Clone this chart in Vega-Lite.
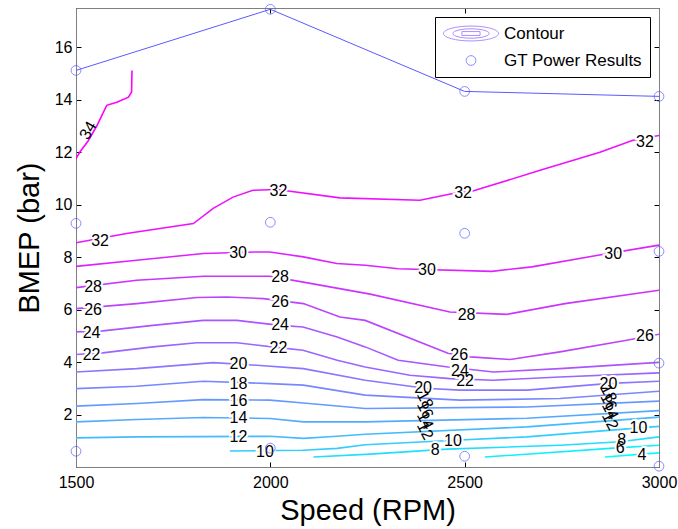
{
  "$schema": "https://vega.github.io/schema/vega-lite/v6.json",
  "width": 583,
  "height": 459,
  "autosize": {"type": "none"},
  "padding": {"left": 76, "top": 8, "right": 19, "bottom": 62},
  "background": "white",
  "config": {
    "font": "Liberation Sans",
    "view": {"stroke": "#7f7f7f", "strokeWidth": 1},
    "axis": {
      "grid": false,
      "domainColor": "#7f7f7f",
      "tickColor": "#000000",
      "tickSize": -5,
      "labelFlush": false,
      "labelOverlap": false,
      "labelColor": "#000000",
      "labelFont": "Liberation Sans",
      "labelFontSize": 16,
      "titleFont": "Liberation Sans",
      "titleFontSize": 29,
      "titleFontWeight": "normal",
      "titleColor": "#000000"
    },
    "legend": {
      "orient": "none",
      "legendX": 359,
      "legendY": 9,
      "padding": 8,
      "strokeColor": "#000000",
      "fillColor": "#ffffff",
      "labelFont": "Liberation Sans",
      "labelFontSize": 17,
      "labelColor": "#000000",
      "labelOffset": 5,
      "rowPadding": 9,
      "clipHeight": 17,
      "symbolStrokeWidth": 1
    }
  },
  "datasets": {
    "contours": [
      {"level": 34, "rpm": 1500, "bmep": 11.76}, {"level": 34, "rpm": 1510, "bmep": 12.01}, {"level": 34, "rpm": 1532, "bmep": 12.45}, {"level": 34, "rpm": 1554, "bmep": 13.02}, {"level": 34, "rpm": 1579, "bmep": 13.79}, {"level": 34, "rpm": 1605, "bmep": 13.91}, {"level": 34, "rpm": 1635, "bmep": 14.10}, {"level": 34, "rpm": 1643, "bmep": 14.30}, {"level": 34, "rpm": 1644, "bmep": 15.12},
      {"level": 32, "rpm": 1500, "bmep": 8.55}, {"level": 32, "rpm": 1630, "bmep": 8.90}, {"level": 32, "rpm": 1802, "bmep": 9.28}, {"level": 32, "rpm": 1853, "bmep": 9.86}, {"level": 32, "rpm": 1904, "bmep": 10.29}, {"level": 32, "rpm": 1955, "bmep": 10.55}, {"level": 32, "rpm": 2017, "bmep": 10.58}, {"level": 32, "rpm": 2179, "bmep": 10.26}, {"level": 32, "rpm": 2385, "bmep": 10.17}, {"level": 32, "rpm": 2470, "bmep": 10.43}, {"level": 32, "rpm": 2521, "bmep": 10.52}, {"level": 32, "rpm": 2694, "bmep": 11.31}, {"level": 32, "rpm": 2848, "bmep": 12.0}, {"level": 32, "rpm": 2933, "bmep": 12.46}, {"level": 32, "rpm": 3000, "bmep": 12.64},
      {"level": 30, "rpm": 1500, "bmep": 7.65}, {"level": 30, "rpm": 1656, "bmep": 7.88}, {"level": 30, "rpm": 1828, "bmep": 8.14}, {"level": 30, "rpm": 1965, "bmep": 8.20}, {"level": 30, "rpm": 1999, "bmep": 8.20}, {"level": 30, "rpm": 2085, "bmep": 8.01}, {"level": 30, "rpm": 2171, "bmep": 7.76}, {"level": 30, "rpm": 2244, "bmep": 7.69}, {"level": 30, "rpm": 2329, "bmep": 7.56}, {"level": 30, "rpm": 2570, "bmep": 7.46}, {"level": 30, "rpm": 2673, "bmep": 7.63}, {"level": 30, "rpm": 2843, "bmep": 8.07}, {"level": 30, "rpm": 3000, "bmep": 8.46},
      {"level": 28, "rpm": 1500, "bmep": 6.84}, {"level": 28, "rpm": 1656, "bmep": 7.12}, {"level": 28, "rpm": 1828, "bmep": 7.27}, {"level": 28, "rpm": 1999, "bmep": 7.27}, {"level": 28, "rpm": 2085, "bmep": 7.05}, {"level": 28, "rpm": 2257, "bmep": 6.59}, {"level": 28, "rpm": 2462, "bmep": 5.91}, {"level": 28, "rpm": 2608, "bmep": 5.82}, {"level": 28, "rpm": 2758, "bmep": 6.23}, {"level": 28, "rpm": 3000, "bmep": 6.74},
      {"level": 26, "rpm": 1500, "bmep": 6.04}, {"level": 26, "rpm": 1656, "bmep": 6.23}, {"level": 26, "rpm": 1811, "bmep": 6.46}, {"level": 26, "rpm": 1888, "bmep": 6.48}, {"level": 26, "rpm": 1982, "bmep": 6.42}, {"level": 26, "rpm": 2085, "bmep": 6.23}, {"level": 26, "rpm": 2179, "bmep": 5.72}, {"level": 26, "rpm": 2244, "bmep": 5.59}, {"level": 26, "rpm": 2457, "bmep": 4.34}, {"level": 26, "rpm": 2514, "bmep": 4.20}, {"level": 26, "rpm": 2617, "bmep": 4.10}, {"level": 26, "rpm": 2745, "bmep": 4.39}, {"level": 26, "rpm": 2917, "bmep": 4.83}, {"level": 26, "rpm": 3000, "bmep": 5.06},
      {"level": 24, "rpm": 1500, "bmep": 5.15}, {"level": 24, "rpm": 1569, "bmep": 5.19}, {"level": 24, "rpm": 1698, "bmep": 5.40}, {"level": 24, "rpm": 1827, "bmep": 5.59}, {"level": 24, "rpm": 1914, "bmep": 5.59}, {"level": 24, "rpm": 2025, "bmep": 5.40}, {"level": 24, "rpm": 2084, "bmep": 5.34}, {"level": 24, "rpm": 2172, "bmep": 4.96}, {"level": 24, "rpm": 2244, "bmep": 4.58}, {"level": 24, "rpm": 2329, "bmep": 4.07}, {"level": 24, "rpm": 2457, "bmep": 3.81}, {"level": 24, "rpm": 2574, "bmep": 3.62}, {"level": 24, "rpm": 2745, "bmep": 3.75}, {"level": 24, "rpm": 3000, "bmep": 3.99},
      {"level": 22, "rpm": 1500, "bmep": 4.29}, {"level": 22, "rpm": 1569, "bmep": 4.35}, {"level": 22, "rpm": 1698, "bmep": 4.58}, {"level": 22, "rpm": 1811, "bmep": 4.74}, {"level": 22, "rpm": 1914, "bmep": 4.74}, {"level": 22, "rpm": 2021, "bmep": 4.55}, {"level": 22, "rpm": 2084, "bmep": 4.45}, {"level": 22, "rpm": 2172, "bmep": 4.07}, {"level": 22, "rpm": 2244, "bmep": 3.81}, {"level": 22, "rpm": 2359, "bmep": 3.50}, {"level": 22, "rpm": 2462, "bmep": 3.37}, {"level": 22, "rpm": 2573, "bmep": 3.31}, {"level": 22, "rpm": 2745, "bmep": 3.43}, {"level": 22, "rpm": 3000, "bmep": 3.59},
      {"level": 20, "rpm": 1500, "bmep": 3.62}, {"level": 20, "rpm": 1656, "bmep": 3.75}, {"level": 20, "rpm": 1853, "bmep": 3.98}, {"level": 20, "rpm": 1965, "bmep": 3.88}, {"level": 20, "rpm": 2085, "bmep": 3.75}, {"level": 20, "rpm": 2244, "bmep": 3.31}, {"level": 20, "rpm": 2398, "bmep": 3.00}, {"level": 20, "rpm": 2488, "bmep": 2.93}, {"level": 20, "rpm": 2660, "bmep": 2.93}, {"level": 20, "rpm": 2874, "bmep": 3.19}, {"level": 20, "rpm": 3000, "bmep": 3.27},
      {"level": 18, "rpm": 1500, "bmep": 2.99}, {"level": 18, "rpm": 1656, "bmep": 3.08}, {"level": 18, "rpm": 1828, "bmep": 3.27}, {"level": 18, "rpm": 1999, "bmep": 3.18}, {"level": 18, "rpm": 2085, "bmep": 3.12}, {"level": 18, "rpm": 2244, "bmep": 2.74}, {"level": 18, "rpm": 2488, "bmep": 2.55}, {"level": 18, "rpm": 2745, "bmep": 2.61}, {"level": 18, "rpm": 3000, "bmep": 2.89},
      {"level": 16, "rpm": 1500, "bmep": 2.32}, {"level": 16, "rpm": 1656, "bmep": 2.42}, {"level": 16, "rpm": 1828, "bmep": 2.57}, {"level": 16, "rpm": 1999, "bmep": 2.55}, {"level": 16, "rpm": 2085, "bmep": 2.44}, {"level": 16, "rpm": 2244, "bmep": 2.23}, {"level": 16, "rpm": 2660, "bmep": 2.29}, {"level": 16, "rpm": 3000, "bmep": 2.51},
      {"level": 14, "rpm": 1500, "bmep": 1.72}, {"level": 14, "rpm": 1656, "bmep": 1.81}, {"level": 14, "rpm": 1828, "bmep": 1.89}, {"level": 14, "rpm": 1999, "bmep": 1.85}, {"level": 14, "rpm": 2085, "bmep": 1.72}, {"level": 14, "rpm": 2244, "bmep": 1.72}, {"level": 14, "rpm": 2660, "bmep": 1.86}, {"level": 14, "rpm": 3000, "bmep": 2.15},
      {"level": 12, "rpm": 1500, "bmep": 1.11}, {"level": 12, "rpm": 1656, "bmep": 1.15}, {"level": 12, "rpm": 1999, "bmep": 1.17}, {"level": 12, "rpm": 2085, "bmep": 1.09}, {"level": 12, "rpm": 2171, "bmep": 1.17}, {"level": 12, "rpm": 2244, "bmep": 1.25}, {"level": 12, "rpm": 2660, "bmep": 1.53}, {"level": 12, "rpm": 3000, "bmep": 1.90},
      {"level": 10, "rpm": 1896, "bmep": 0.61}, {"level": 10, "rpm": 2084, "bmep": 0.64}, {"level": 10, "rpm": 2172, "bmep": 0.71}, {"level": 10, "rpm": 2244, "bmep": 0.85}, {"level": 10, "rpm": 2475, "bmep": 1.02}, {"level": 10, "rpm": 2660, "bmep": 1.15}, {"level": 10, "rpm": 3000, "bmep": 1.55},
      {"level": 8, "rpm": 2111, "bmep": 0.38}, {"level": 8, "rpm": 2257, "bmep": 0.49}, {"level": 8, "rpm": 2455, "bmep": 0.68}, {"level": 8, "rpm": 2745, "bmep": 0.83}, {"level": 8, "rpm": 2900, "bmep": 0.96}, {"level": 8, "rpm": 3000, "bmep": 1.15},
      {"level": 6, "rpm": 2552, "bmep": 0.38}, {"level": 6, "rpm": 2874, "bmep": 0.71}, {"level": 6, "rpm": 3000, "bmep": 0.83},
      {"level": 4, "rpm": 2861, "bmep": 0.38}, {"level": 4, "rpm": 3000, "bmep": 0.54}
    ],
    "labels": [
      {"level": 32, "rpm": 1562, "bmep": 8.61}, {"level": 32, "rpm": 2021, "bmep": 10.51}, {"level": 32, "rpm": 2496, "bmep": 10.43}, {"level": 32, "rpm": 2964, "bmep": 12.39},
      {"level": 30, "rpm": 1917, "bmep": 8.16}, {"level": 30, "rpm": 2403, "bmep": 7.50}, {"level": 30, "rpm": 2882, "bmep": 8.11},
      {"level": 28, "rpm": 1544, "bmep": 6.85}, {"level": 28, "rpm": 2025, "bmep": 7.24}, {"level": 28, "rpm": 2505, "bmep": 5.79},
      {"level": 26, "rpm": 1544, "bmep": 5.98}, {"level": 26, "rpm": 2025, "bmep": 6.29}, {"level": 26, "rpm": 2486, "bmep": 4.26}, {"level": 26, "rpm": 2964, "bmep": 4.98},
      {"level": 24, "rpm": 1540, "bmep": 5.09}, {"level": 24, "rpm": 2025, "bmep": 5.40}, {"level": 24, "rpm": 2488, "bmep": 3.65},
      {"level": 22, "rpm": 1540, "bmep": 4.26}, {"level": 22, "rpm": 2021, "bmep": 4.55}, {"level": 22, "rpm": 2501, "bmep": 3.27},
      {"level": 20, "rpm": 1918, "bmep": 3.91}, {"level": 20, "rpm": 2393, "bmep": 3.03}, {"level": 20, "rpm": 2870, "bmep": 3.16},
      {"level": 18, "rpm": 1918, "bmep": 3.16},
      {"level": 16, "rpm": 1918, "bmep": 2.51},
      {"level": 14, "rpm": 1918, "bmep": 1.85},
      {"level": 12, "rpm": 1918, "bmep": 1.15},
      {"level": 10, "rpm": 1986, "bmep": 0.58}, {"level": 10, "rpm": 2470, "bmep": 0.99}, {"level": 10, "rpm": 2947, "bmep": 1.47},
      {"level": 8, "rpm": 2424, "bmep": 0.64}, {"level": 8, "rpm": 2904, "bmep": 1.02},
      {"level": 6, "rpm": 2900, "bmep": 0.71},
      {"level": 4, "rpm": 2956, "bmep": 0.45}
    ],
    "labelsSteep": [
      {"level": 18, "rpm": 2398, "bmep": 2.55}, {"level": 16, "rpm": 2398, "bmep": 2.17}, {"level": 14, "rpm": 2398, "bmep": 1.77}, {"level": 12, "rpm": 2398, "bmep": 1.38},
      {"level": 18, "rpm": 2870, "bmep": 2.80}, {"level": 16, "rpm": 2870, "bmep": 2.48}, {"level": 14, "rpm": 2874, "bmep": 2.14}, {"level": 12, "rpm": 2874, "bmep": 1.75}
    ],
    "labelsDiag": [
      {"level": 34, "rpm": 1531, "bmep": 12.83}
    ],
    "gt": [
      {"series": "GT Power Results", "rpm": 1500, "bmep": 15.12}, {"series": "GT Power Results", "rpm": 2000, "bmep": 17.45}, {"series": "GT Power Results", "rpm": 2500, "bmep": 14.32}, {"series": "GT Power Results", "rpm": 3000, "bmep": 14.13},
      {"series": "GT Power Results", "rpm": 1500, "bmep": 9.29}, {"series": "GT Power Results", "rpm": 2000, "bmep": 9.33}, {"series": "GT Power Results", "rpm": 2500, "bmep": 8.91}, {"series": "GT Power Results", "rpm": 3000, "bmep": 8.22},
      {"series": "GT Power Results", "rpm": 3000, "bmep": 3.96},
      {"series": "GT Power Results", "rpm": 1500, "bmep": 0.60}, {"series": "GT Power Results", "rpm": 2000, "bmep": 0.72}, {"series": "GT Power Results", "rpm": 2500, "bmep": 0.41}, {"series": "GT Power Results", "rpm": 3000, "bmep": 0.03}
    ]
  },
  "resolve": {"axis": {"x": "independent", "y": "independent"}},
  "layer": [
    {
      "data": {"name": "contours"},
      "mark": {"type": "line", "strokeWidth": 1.6, "clip": true},
      "encoding": {
        "x": {"field": "rpm", "type": "quantitative", "scale": {"domain": [1500, 3000], "nice": false, "zero": false},
              "axis": {"values": [1500, 2000, 2500, 3000], "format": "d", "title": "Speed (RPM)", "labelPadding": 12, "titlePadding": 6}},
        "y": {"field": "bmep", "type": "quantitative", "scale": {"domain": [0, 17.5], "nice": false, "zero": false},
              "axis": {"values": [2, 4, 6, 8, 10, 12, 14, 16], "format": "d", "title": "BMEP (bar)", "labelPadding": 9, "titlePadding": 10}},
        "color": {"field": "level", "type": "quantitative", "scale": {"domain": [4, 34], "range": ["#00ffff", "#ff00ff"], "interpolate": "rgb"}, "legend": null},
        "detail": {"field": "level", "type": "nominal"}
      }
    },
    {
      "data": {"name": "gt"},
      "transform": [{"filter": "datum.bmep > 12"}],
      "mark": {"type": "line", "color": "#5a5aff", "strokeWidth": 1},
      "encoding": {
        "x": {"field": "rpm", "type": "quantitative", "axis": {"orient": "top", "labels": false, "title": null, "values": [1500, 2000, 2500, 3000]}},
        "y": {"field": "bmep", "type": "quantitative", "axis": {"orient": "right", "labels": false, "title": null, "values": [2, 4, 6, 8, 10, 12, 14, 16]}}
      }
    },
    {
      "data": {"name": "labels"},
      "mark": {"type": "text", "font": "Liberation Sans", "fontSize": 16, "fill": "white", "stroke": "white", "strokeWidth": 4},
      "encoding": {
        "x": {"field": "rpm", "type": "quantitative", "axis": null},
        "y": {"field": "bmep", "type": "quantitative", "axis": null},
        "text": {"field": "level", "type": "quantitative"}
      }
    },
    {
      "data": {"name": "labels"},
      "mark": {"type": "text", "font": "Liberation Sans", "fontSize": 16, "fill": "black"},
      "encoding": {
        "x": {"field": "rpm", "type": "quantitative", "axis": null},
        "y": {"field": "bmep", "type": "quantitative", "axis": null},
        "text": {"field": "level", "type": "quantitative"}
      }
    },
    {
      "data": {"name": "labelsSteep"},
      "mark": {"type": "text", "font": "Liberation Sans", "fontSize": 16, "fill": "black", "angle": 62},
      "encoding": {
        "x": {"field": "rpm", "type": "quantitative", "axis": null},
        "y": {"field": "bmep", "type": "quantitative", "axis": null},
        "text": {"field": "level", "type": "quantitative"}
      }
    },
    {
      "data": {"name": "labelsDiag"},
      "mark": {"type": "text", "font": "Liberation Sans", "fontSize": 16, "fill": "black", "angle": -60},
      "encoding": {
        "x": {"field": "rpm", "type": "quantitative", "axis": null},
        "y": {"field": "bmep", "type": "quantitative", "axis": null},
        "text": {"field": "level", "type": "quantitative"}
      }
    },
    {
      "data": {"name": "gt"},
      "mark": {"type": "point", "filled": false, "strokeWidth": 1, "clip": false},
      "encoding": {
        "x": {"field": "rpm", "type": "quantitative", "axis": null},
        "y": {"field": "bmep", "type": "quantitative", "axis": null},
        "shape": {"field": "series", "type": "nominal", "title": null,
                  "scale": {"domain": ["Contour", "GT Power Results"], "range": ["M-1,0A1,0.27 0 1,0 1,0A1,0.27 0 1,0 -1,0Z M-0.66,0A0.66,0.17 0 1,0 0.66,0A0.66,0.17 0 1,0 -0.66,0Z M-0.33,-0.07H0.33V0.07H-0.33Z", "circle"]}},
        "stroke": {"field": "series", "type": "nominal", "title": null,
                   "scale": {"domain": ["Contour", "GT Power Results"], "range": ["#8a5cff", "#5a5aff"]}},
        "size": {"field": "series", "type": "ordinal", "title": null,
                 "scale": {"domain": ["Contour", "GT Power Results"], "range": [3025, 95]}}
      }
    }
  ]
}
